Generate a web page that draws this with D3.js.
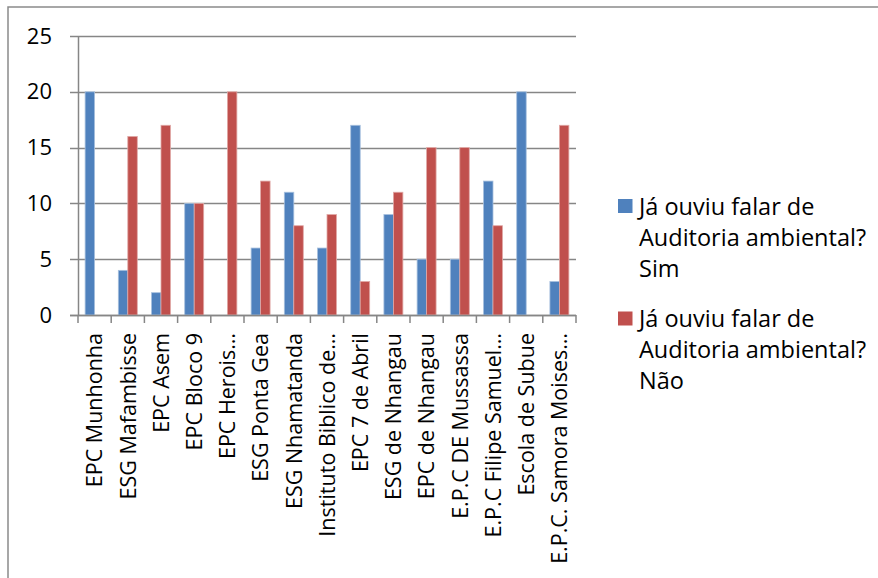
<!DOCTYPE html>
<html>
<head>
<meta charset="utf-8">
<script src="https://cdn.jsdelivr.net/npm/d3@7"></script>
<style>
  body { margin: 0; background: #fff; }
  svg { display: block; font-family: "Open Sans", sans-serif; }
</style>
</head>
<body>
<svg width="878" height="578"></svg>
<script>
// Schools (labels as shown, already truncated)
const categories = [
    "EPC Munhonha", "ESG Mafambisse", "EPC Asem", "EPC Bloco 9", "EPC Herois…",
    "ESG Ponta Gea", "ESG Nhamatanda", "Instituto Biblico de…", "EPC 7 de Abril",
    "ESG de Nhangau", "EPC de Nhangau", "E.P.C DE Mussassa", "E.P.C Filipe Samuel…",
    "Escola de Subue", "E.P.C. Samora Moises…"
];
const seriesNames = [
    ["Já ouviu falar de", "Auditoria ambiental?", "Sim"],
    ["Já ouviu falar de", "Auditoria ambiental?", "Não"]
];
const simValues = [20, 4, 2, 10, 0, 6, 11, 6, 17, 9, 5, 5, 12, 20, 3];
const naoValues = [0, 16, 17, 10, 20, 12, 8, 9, 3, 11, 15, 15, 8, 0, 17];
const yTicks = [0, 5, 10, 15, 20, 25];

const colors = ["#4F81BD", "#C0504D"];
const strokes = ["#a7c0de", "#e0a8a6"];

const svg = d3.select("svg");

// plot area
const plotLeft = 78, plotRight = 576, plotTop = 36, plotBottom = 315;

const x0 = d3.scaleBand().domain(categories).range([plotLeft, plotRight]).padding(0);
const x1 = d3.scaleBand().domain([0, 1]).range([0, x0.bandwidth()])
    .paddingInner(0).paddingOuter(0.75);
const y = d3.scaleLinear().domain([0, 25]).range([plotBottom, plotTop]);

// outer frame (only left and top visible)
svg.append("path")
    .attr("d", "M8,578V7H878")
    .attr("fill", "none")
    .attr("stroke", "#8a8a8a")
    .attr("stroke-width", 1.5);

// gridlines
svg.append("g")
    .selectAll("line")
    .data(yTicks)
    .enter().append("line")
    .attr("x1", plotLeft - 8)
    .attr("x2", plotRight)
    .attr("y1", d => Math.round(y(d)) + 0.5)
    .attr("y2", d => Math.round(y(d)) + 0.5)
    .attr("stroke", "#868686")
    .attr("stroke-width", 1.5);

// bars
const data = categories.map((c, i) => ({ cat: c, vals: [simValues[i], naoValues[i]] }));
const group = svg.append("g")
    .selectAll("g")
    .data(data)
    .enter().append("g")
    .attr("transform", d => "translate(" + x0(d.cat) + ",0)");

group.selectAll("rect")
    .data(d => d.vals.map((v, k) => ({ k: k, v: v })).filter(d => d.v > 0))
    .enter().append("rect")
    .attr("x", d => x1(d.k))
    .attr("y", d => y(d.v))
    .attr("width", x1.bandwidth())
    .attr("height", d => y(0) - y(d.v))
    .attr("fill", d => colors[d.k])
    .attr("stroke", d => strokes[d.k])
    .attr("stroke-width", 0.8);

// y axis
const yAxis = svg.append("g")
    .attr("transform", "translate(" + plotLeft + ",0)")
    .call(d3.axisLeft(y).tickValues(yTicks).tickSize(0).tickPadding(26));
yAxis.select(".domain")
    .attr("stroke", "#868686")
    .attr("stroke-width", 1.5);
yAxis.selectAll("text")
    .attr("font-size", 22)
    .attr("fill", "#000")
    .attr("font-family", "'Open Sans', sans-serif");

// x axis line and boundary ticks
svg.append("line")
    .attr("x1", plotLeft - 8).attr("x2", plotRight)
    .attr("y1", plotBottom + 0.5).attr("y2", plotBottom + 0.5)
    .attr("stroke", "#868686").attr("stroke-width", 1.5);
svg.append("g")
    .selectAll("line")
    .data(categories.map(c => x0(c)).concat([plotRight]))
    .enter().append("line")
    .attr("x1", d => d).attr("x2", d => d)
    .attr("y1", plotBottom).attr("y2", plotBottom + 8)
    .attr("stroke", "#868686").attr("stroke-width", 1.5);

// x labels, rotated
svg.append("g")
    .selectAll("text")
    .data(categories)
    .enter().append("text")
    .attr("transform", d => "translate(" + (x0(d) + x0.bandwidth() / 2) + "," + (plotBottom + 18) + ") rotate(-90)")
    .attr("dy", "0.36em")
    .attr("text-anchor", "end")
    .attr("font-size", 21.5)
    .attr("fill", "#000")
    .text(d => d);

// legend
const legend = svg.selectAll(".legend")
    .data(seriesNames)
    .enter().append("g")
    .attr("class", "legend")
    .attr("transform", (d, i) => "translate(618," + (199 + i * 112.5) + ")");

legend.append("rect")
    .attr("width", 14.5)
    .attr("height", 14)
    .attr("fill", (d, i) => colors[i]);

legend.append("text")
    .attr("font-size", 23.5)
    .attr("fill", "#000")
    .selectAll("tspan")
    .data(d => d)
    .enter().append("tspan")
    .attr("x", 21)
    .attr("y", (d, i) => 15.5 + i * 31)
    .text(d => d);
</script>
</body>
</html>
